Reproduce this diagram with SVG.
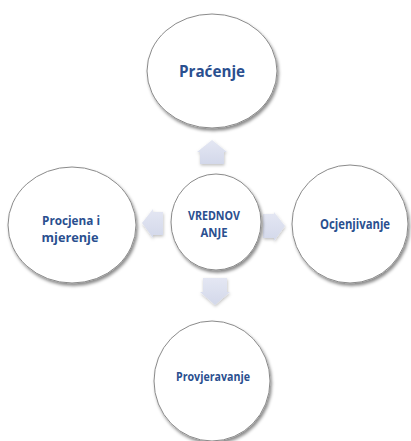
<svg xmlns="http://www.w3.org/2000/svg" width="411" height="441" viewBox="0 0 411 441">
<style>
.node{fill:#ffffff;stroke:#8a8a8a;stroke-width:1;filter:url(#sh)}
.lbl{font-family:"Open Sans","Liberation Sans",sans-serif;font-weight:bold;fill:#2a4f8f;text-anchor:middle}
.arr{fill:url(#ag);filter:url(#ash)}
</style>
<defs>
<filter id="sh" x="-20%" y="-20%" width="140%" height="140%">
<feDropShadow dx="1.5" dy="2.5" stdDeviation="1.5" flood-color="#000" flood-opacity="0.45"/>
</filter>
<filter id="ash" x="-30%" y="-30%" width="160%" height="160%">
<feDropShadow dx="0.5" dy="1.5" stdDeviation="1.5" flood-color="#000" flood-opacity="0.25"/>
</filter>
<linearGradient id="ag" x1="0" y1="0" x2="0" y2="1">
<stop offset="0" stop-color="#e4e7f3"/>
<stop offset="1" stop-color="#d3d8ea"/>
</linearGradient>
</defs>
<rect width="411" height="441" fill="#ffffff"/>
<g id="connectors">
<polygon class="arr" points="212,140 227,152 224,152 224,164 200,164 200,152 197,152"/>
<polygon class="arr" points="142,223 153,209 153,212 163,212 163,235 153,235 153,238"/>
<polygon class="arr" points="285,226 274,212 274,214 263,214 263,238 274,238 274,241"/>
<polygon class="arr" points="215,305 230,292 227,292 227,278 203,278 203,292 200,292"/>
</g>
<g id="node-pracenje">
<ellipse class="node" cx="212" cy="71" rx="65" ry="57"/>
<text class="lbl" x="212" y="77" font-size="16" fill="#1f3f75" textLength="66" lengthAdjust="spacingAndGlyphs">Praćenje</text>
</g>
<g id="node-vrednovanje">
<ellipse class="node" cx="216" cy="222" rx="45" ry="48"/>
<text class="lbl" x="214" y="220" font-size="11.5" textLength="52" lengthAdjust="spacingAndGlyphs">VREDNOV</text>
<text class="lbl" x="214" y="237" font-size="11.5" textLength="27" lengthAdjust="spacingAndGlyphs">ANJE</text>
</g>
<g id="node-procjena">
<ellipse class="node" cx="72" cy="225" rx="64" ry="58"/>
<text class="lbl" x="71" y="225" font-size="12.5" textLength="58" lengthAdjust="spacingAndGlyphs">Procjena i</text>
<text class="lbl" x="70" y="242" font-size="12.5" textLength="57" lengthAdjust="spacingAndGlyphs">mjerenje</text>
</g>
<g id="node-ocjenjivanje">
<ellipse class="node" cx="350" cy="224" rx="58" ry="59"/>
<text class="lbl" x="355" y="229" font-size="13.5" textLength="70" lengthAdjust="spacingAndGlyphs">Ocjenjivanje</text>
</g>
<g id="node-provjeravanje">
<ellipse class="node" cx="212" cy="381" rx="58" ry="60"/>
<text class="lbl" x="213" y="381" font-size="12.5" textLength="74" lengthAdjust="spacingAndGlyphs">Provjeravanje</text>
</g>
</svg>
